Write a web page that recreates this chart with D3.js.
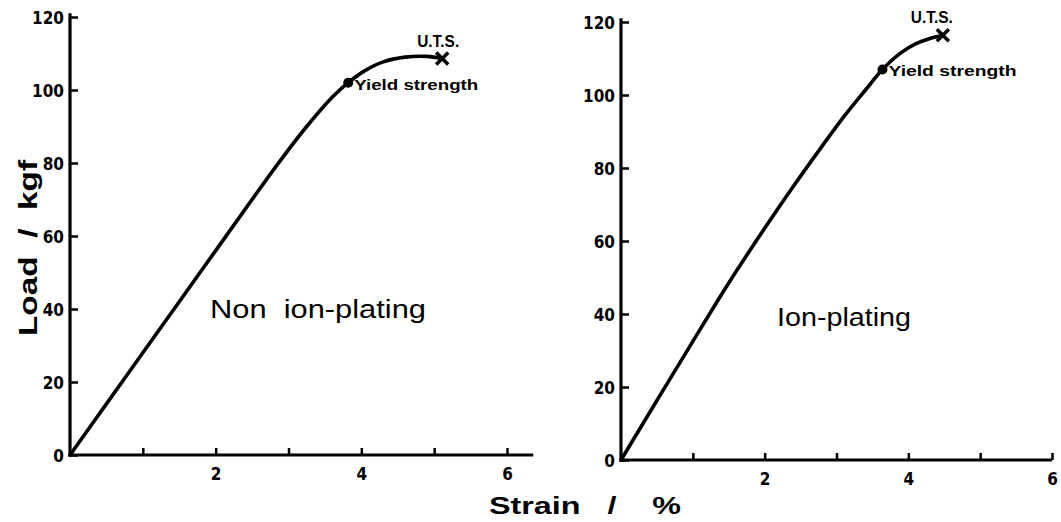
<!DOCTYPE html>
<html>
<head>
<meta charset="utf-8">
<script src="https://cdn.jsdelivr.net/npm/d3@7/dist/d3.min.js"></script>
<style>
  html, body { margin: 0; padding: 0; background: #fff; }
  svg { display: block; }
  text { font-family: "Liberation Sans", Arial, sans-serif; fill: #000; }
</style>
</head>
<body>
<svg id="chart" width="1061" height="522"></svg>
<script>
// ---- data ----
const nonStrain = [0, 0.5, 1.0, 1.5, 2.0, 2.5, 2.9, 3.25, 3.6, 3.82, 4.05, 4.3, 4.6, 4.9, 5.11];
const nonLoad   = [0, 14, 28, 42, 56, 70, 81, 90, 98, 102, 105.3, 107.7, 109, 109.2, 108.6];
const nonYield  = [3.82, 102];
const nonUTS    = [5.11, 108.6];

const ionStrain = [0, 0.5, 1.0, 1.5, 2.0, 2.4, 2.8, 3.1, 3.4, 3.64, 3.9, 4.1, 4.3, 4.48];
const ionLoad   = [0, 16.3, 32.5, 48.5, 63.5, 75.0, 86.0, 94.0, 101.3, 107.0, 111.6, 114.0, 115.5, 116.4];
const ionYield  = [3.64, 107.0];
const ionUTS    = [4.48, 116.4];

const yTicks = [0, 20, 40, 60, 80, 100, 120];
const xTicks = [1, 2, 3, 4, 5, 6];
const xTickLabels = {2: "2", 4: "4", 6: "6"};

const svg = d3.select("#chart");

function panel(cfg) {
  const x = d3.scaleLinear().domain([0, 6]).range(cfg.xr);
  const y = d3.scaleLinear().domain([0, 120]).range(cfg.yr);
  const g = svg.append("g");

  // axes
  const ya = d3.axisLeft(y).tickValues(yTicks).tickSize(-8).tickPadding(6);
  const yg = g.append("g").attr("transform", `translate(${x(0)},0)`).call(ya);
  yg.select(".domain").remove();
  yg.selectAll("line").attr("stroke", "#000").attr("stroke-width", 2.5);
  yg.selectAll("text").style("font-size", "17px").style("font-weight", "bold")
    .style("font-family", "'DejaVu Sans Condensed', 'Liberation Sans', sans-serif").attr("dy", "0.36em");

  const xa = d3.axisBottom(x).tickValues(xTicks).tickSize(-7).tickPadding(13)
    .tickFormat(d => xTickLabels[d] || "");
  const xg = g.append("g").attr("transform", `translate(0,${y(0)})`).call(xa);
  xg.select(".domain").remove();
  xg.selectAll("line").attr("stroke", "#000").attr("stroke-width", 2.5);
  xg.selectAll("text").style("font-size", "17px").style("font-weight", "bold")
    .style("font-family", "'DejaVu Sans Condensed', 'Liberation Sans', sans-serif");

  g.append("line").attr("x1", x(0)).attr("x2", x(0)).attr("y1", y(0) + 1.5).attr("y2", y(121))
    .attr("stroke", "#000").attr("stroke-width", 3.2);
  g.append("line").attr("x1", x(0) - 1.5).attr("x2", x(cfg.xEnd)).attr("y1", y(0)).attr("y2", y(0))
    .attr("stroke", "#000").attr("stroke-width", 3.2);

  // curve
  const pts = cfg.sx.map((s, i) => [s, cfg.ly[i]]);
  const line = d3.line().x(d => x(d[0])).y(d => y(d[1])).curve(d3.curveCatmullRom.alpha(0.5));
  g.append("path").datum(pts).attr("d", line)
    .attr("fill", "none").attr("stroke", "#000").attr("stroke-width", 3.6)
    .attr("stroke-linecap", "round");

  // yield point
  g.append("circle").attr("cx", x(cfg.yieldPt[0])).attr("cy", y(cfg.yieldPt[1])).attr("r", 5).attr("fill", "#000");
  g.append("text").attr("x", x(cfg.yieldPt[0]) + 6).attr("y", y(cfg.yieldPt[1]) + 7)
    .style("font-size", "15px").style("font-weight", "bold")
    .attr("textLength", cfg.yieldLen).attr("lengthAdjust", "spacingAndGlyphs")
    .text("Yield strength");

  // UTS cross
  const ux = x(cfg.uts[0]), uy = y(cfg.uts[1]), s = 6;
  g.append("path").attr("d", `M${ux - s},${uy - s}L${ux + s},${uy + s}M${ux + s},${uy - s}L${ux - s},${uy + s}`)
    .attr("stroke", "#000").attr("stroke-width", 3.5).attr("fill", "none");
  g.append("text").attr("x", ux + cfg.utsDx).attr("y", uy - 12).attr("text-anchor", "middle")
    .style("font-size", "16px").style("font-weight", "bold")
    .attr("textLength", 42).attr("lengthAdjust", "spacingAndGlyphs")
    .text("U.T.S.");

  // panel title
  g.append("text").attr("x", cfg.title[0]).attr("y", cfg.title[1]).attr("text-anchor", "middle")
    .style("font-size", "25px").style("white-space", "pre")
    .attr("textLength", cfg.titleLen).attr("lengthAdjust", "spacingAndGlyphs")
    .text(cfg.label);
}

panel({
  xr: [70, 507], yr: [455, 17], xEnd: 6.36,
  sx: nonStrain, ly: nonLoad, yieldPt: nonYield, uts: nonUTS,
  yieldLen: 124, utsDx: -4, title: [318, 318], titleLen: 216, label: "Non  ion-plating"
});
panel({
  xr: [621, 1052], yr: [460, 22], xEnd: 6,
  sx: ionStrain, ly: ionLoad, yieldPt: ionYield, uts: ionUTS,
  yieldLen: 128, utsDx: -11, title: [844, 326], titleLen: 134, label: "Ion-plating"
});

// axis titles
svg.append("text").attr("transform", "translate(37,248) rotate(-90)").attr("text-anchor", "middle")
  .style("font-size", "26px").style("font-weight", "bold").style("white-space", "pre")
  .attr("textLength", 176).attr("lengthAdjust", "spacingAndGlyphs")
  .text("Load  /  kgf");
svg.append("text").attr("x", 585).attr("y", 514).attr("text-anchor", "middle")
  .style("font-size", "23px").style("font-weight", "bold").style("white-space", "pre")
  .attr("textLength", 192).attr("lengthAdjust", "spacingAndGlyphs")
  .text("Strain   /    %");
</script>
</body>
</html>
